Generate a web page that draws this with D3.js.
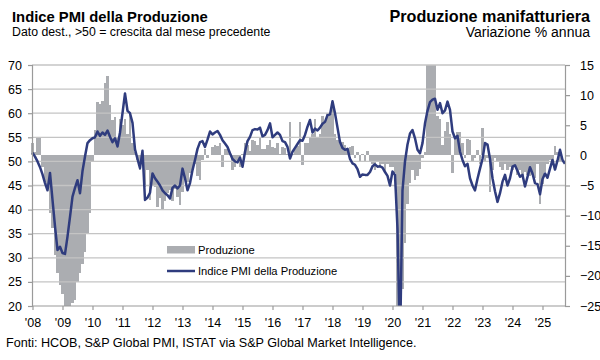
<!DOCTYPE html>
<html><head><meta charset="utf-8">
<script src="https://cdn.jsdelivr.net/npm/d3@7"></script>
<style>
body{margin:0;background:#fff}
svg{display:block}
text{font-family:"Liberation Sans",Arial,sans-serif;fill:#000}
</style>
</head><body>
<svg id="chart" width="600" height="360"></svg>
<script>
// ---- DATA ----
const yearLabels = ["'08","'09","'10","'11","'12","'13","'14","'15","'16","'17","'18","'19","'20","'21","'22","'23","'24","'25"];
const leftTicks = [20,25,30,35,40,45,50,55,60,65,70];
const rightTicks = [-25,-20,-15,-10,-5,0,5,10,15];

// PMI output index, monthly Jan 2008 - Oct 2025
const pmiOutput = [
 51.8,51.0,50.0,48.8,47.3,45.5,44.0,47.6,42.0,36.5,31.6,32.3,
 31.0,30.8,34.4,38.5,42.7,44.5,46.1,43.4,48.0,51.0,53.8,54.4,
 54.8,55.0,56.2,55.3,56.0,55.5,56.4,55.1,54.0,54.8,53.1,56.0,
 60.0,64.1,60.5,60.0,58.0,52.5,50.5,48.6,52.2,42.0,42.5,43.5,
 47.5,46.5,45.8,45.0,44.0,43.4,43.0,42.3,44.5,45.0,44.4,45.0,
 48.5,46.5,44.0,45.5,48.2,50.3,52.6,54.0,54.2,53.0,54.5,56.2,
 55.6,56.0,56.3,55.5,54.4,53.7,53.0,51.7,50.5,50.0,49.8,50.8,
 48.9,52.0,54.2,55.1,56.5,56.7,56.6,57.0,55.2,55.5,56.5,57.9,
 55.0,55.5,56.0,55.5,54.2,54.0,53.0,50.6,52.0,52.8,53.6,54.4,
 54.3,55.5,57.2,58.6,56.0,56.8,56.4,57.0,57.8,58.2,59.6,59.7,
 62.5,60.0,57.0,54.0,52.8,52.4,52.6,50.5,49.6,49.3,48.4,46.8,
 47.3,47.2,47.2,47.8,49.0,49.4,48.9,49.0,48.7,47.8,47.0,45.0,
 47.9,47.2,36.0,11.0,44.0,50.0,53.5,55.8,56.5,54.8,52.4,51.7,
 53.8,57.9,60.5,62.3,62.8,63.0,60.7,62.1,60.0,60.6,62.4,60.7,
 56.2,54.8,55.3,52.0,50.3,49.0,49.5,46.5,45.0,44.0,46.4,48.5,
 50.5,53.8,53.5,50.5,46.5,43.8,41.6,43.4,45.8,47.2,45.0,46.5,
 48.9,49.2,48.0,46.8,47.2,44.8,46.8,48.8,47.5,45.5,45.3,43.2,
 46.3,47.5,46.6,48.5,50.3,48.3,50.2,52.4,50.3,49.5
];

// Manufacturing production, % y/y, monthly Jan 2008 - Aug 2025
const production = [
 2.0,0.5,2.9,3.0,-2.0,-4.5,-5.5,-9.6,-12.0,-16.5,-19.5,-21.5,
 -23.0,-25.0,-25.0,-25.0,-24.5,-24.0,-21.0,-19.5,-18.0,-16.0,-12.9,-9.6,
 -1.0,4.2,8.9,8.6,9.0,12.0,13.2,8.4,5.9,6.4,3.1,6.1,
 5.0,6.1,3.5,7.0,2.0,0.5,-0.8,-2.4,0.2,-5.2,-2.4,-7.4,
 -5.0,-5.2,-8.5,-7.0,-9.1,-7.5,-6.3,-5.8,-7.5,-5.5,-6.9,-8.2,
 -6.0,-4.1,-4.5,-3.0,-2.4,-1.5,-3.5,-4.1,-0.8,1.1,-0.5,0.0,
 1.4,1.7,1.5,2.0,-1.9,1.1,1.0,0.5,-2.4,-2.0,-0.8,-1.9,
 0.2,2.0,1.8,0.8,2.6,2.4,1.7,3.1,1.1,1.0,1.7,2.6,
 1.4,1.2,2.0,0.2,1.4,1.2,0.2,5.6,0.3,1.1,1.5,5.6,
 -1.6,2.0,2.0,3.1,3.5,6.1,3.0,3.5,6.5,5.5,7.0,6.5,
 8.4,3.5,2.6,2.5,2.2,1.7,1.2,1.4,1.5,-0.5,0.5,-1.0,
 0.2,-1.0,0.8,-1.0,-1.5,-2.4,-1.0,-2.0,-1.5,-3.0,-1.5,-2.0,
 -2.0,-3.0,-26.0,-30.0,-22.1,-14.6,-8.0,-4.6,-2.4,-4.1,-3.5,-2.2,
 -0.5,0.6,30.0,60.0,20.0,15.5,6.5,6.0,1.7,4.0,5.6,3.5,
 -3.0,3.1,3.9,3.9,2.0,-0.5,2.8,2.5,-1.0,-0.5,0.9,-1.5,
 4.5,-1.0,-0.5,-6.0,-2.5,-0.5,-1.0,-2.0,-2.4,-1.5,-2.4,-2.0,
 -2.4,-1.8,-3.2,-2.4,-3.5,-2.8,-3.2,-3.5,-3.2,-3.8,-1.5,-8.1,
 -4.8,-2.7,-1.5,-0.8,-1.0,1.5,0.5,-1.0
];

// ---- CHART ----
const svg = d3.select("#chart");
const L = 32, R = 565, T = 65, B = 306;
const nMonths = pmiOutput.length;
const FONT = "'Liberation Sans',Arial,sans-serif";

const x = d3.scaleLinear().domain([0, nMonths - 1]).range([L + 0.5, R]);
const yL = d3.scaleLinear().domain([20, 70]).range([B, T]);
const yR = d3.scaleLinear().domain([-25, 15]).range([B, T]);
const step = x(1) - x(0);

svg.append("defs").append("clipPath").attr("id", "plot")
  .append("rect").attr("x", L - 1.5).attr("y", T).attr("width", R - L + 1.5).attr("height", B - T);

// bars (edges snapped so neighbouring bars abut without seams)
const edge = i => Math.round(x(i) - step / 2);
svg.append("g").attr("clip-path", "url(#plot)").attr("shape-rendering", "crispEdges")
  .selectAll("rect").data(production).join("rect")
  .attr("x", (d, i) => edge(i))
  .attr("width", (d, i) => edge(i + 1) - edge(i))
  .attr("y", d => Math.round(yR(Math.max(0, d))))
  .attr("height", d => Math.round(Math.max(yR(d), yR(0))) - Math.round(yR(Math.max(0, d))))
  .attr("fill", "#abadb1");

// gridlines (left axis)
svg.append("g").selectAll("line").data(leftTicks.filter(t => t > 20)).join("line")
  .attr("x1", L).attr("x2", R)
  .attr("y1", d => yL(d)).attr("y2", d => yL(d))
  .attr("stroke", "#c4c4c4").attr("stroke-width", 1.3);

// PMI line
svg.append("path").datum(pmiOutput)
  .attr("clip-path", "url(#plot)")
  .attr("d", d3.line().x((d, i) => x(i)).y(d => yL(d)))
  .attr("fill", "none").attr("stroke", "#2f3c7e").attr("stroke-width", 2.5)
  .attr("stroke-linejoin", "round");

// axes
const axisColor = "#9a9a9a";
const leftAxis = d3.axisLeft(yL).tickValues(leftTicks).tickSize(4).tickPadding(6);
const gL = svg.append("g").attr("transform", `translate(${L},0)`).call(leftAxis);
const rightAxis = d3.axisRight(yR).tickValues(rightTicks).tickSize(5).tickPadding(10);
const gR = svg.append("g").attr("transform", `translate(${R},0)`).call(rightAxis);
[gL, gR].forEach(g => {
  g.select(".domain").attr("stroke", axisColor).attr("stroke-width", 1.2);
  g.selectAll(".tick line").attr("stroke", axisColor).attr("stroke-width", 1.2);
  g.selectAll("text").attr("font-size", 12.5).attr("fill", "#000").style("font-family", FONT);
});

// bottom axis
const yearIdx = yearLabels.map((_, k) => k * 12);
const bottomAxis = d3.axisBottom(x).tickValues(yearIdx).tickFormat((d, k) => yearLabels[k]).tickSize(4).tickPadding(8);
const gB = svg.append("g").attr("transform", `translate(0,${B})`).call(bottomAxis);
gB.select(".domain").attr("stroke", axisColor).attr("stroke-width", 1.2).attr("d", `M${L},0H${R}`);
gB.selectAll(".tick line").attr("stroke", axisColor).attr("stroke-width", 1.2);
gB.selectAll("text").attr("font-size", 12.5).attr("fill", "#000").style("font-family", FONT);

// legend
const lg = svg.append("g");
lg.append("rect").attr("x", 167).attr("y", 246).attr("width", 28).attr("height", 7.5).attr("fill", "#abadb1");
lg.append("text").attr("x", 198).attr("y", 254).attr("font-size", 11.2).text("Produzione");
lg.append("line").attr("x1", 167).attr("x2", 195).attr("y1", 271).attr("y2", 271)
  .attr("stroke", "#2f3c7e").attr("stroke-width", 2.5);
lg.append("text").attr("x", 198).attr("y", 275).attr("font-size", 11.2).text("Indice PMI della Produzione");

// titles
svg.append("text").attr("x", 12).attr("y", 22).attr("font-size", 14.8).attr("font-weight", "bold")
  .text("Indice PMI della Produzione");
svg.append("text").attr("x", 12).attr("y", 36).attr("font-size", 12.3)
  .text("Dato dest., >50 = crescita dal mese precedente");
svg.append("text").attr("x", 590).attr("y", 22).attr("font-size", 16.2).attr("font-weight", "bold")
  .attr("text-anchor", "end").text("Produzione manifatturiera");
svg.append("text").attr("x", 590).attr("y", 37).attr("font-size", 14)
  .attr("text-anchor", "end").text("Variazione % annua");

// source
svg.append("text").attr("x", 6).attr("y", 347).attr("font-size", 12.6)
  .text("Fonti: HCOB, S&P Global PMI, ISTAT via S&P Global Market Intelligence.");
</script>
</body></html>
